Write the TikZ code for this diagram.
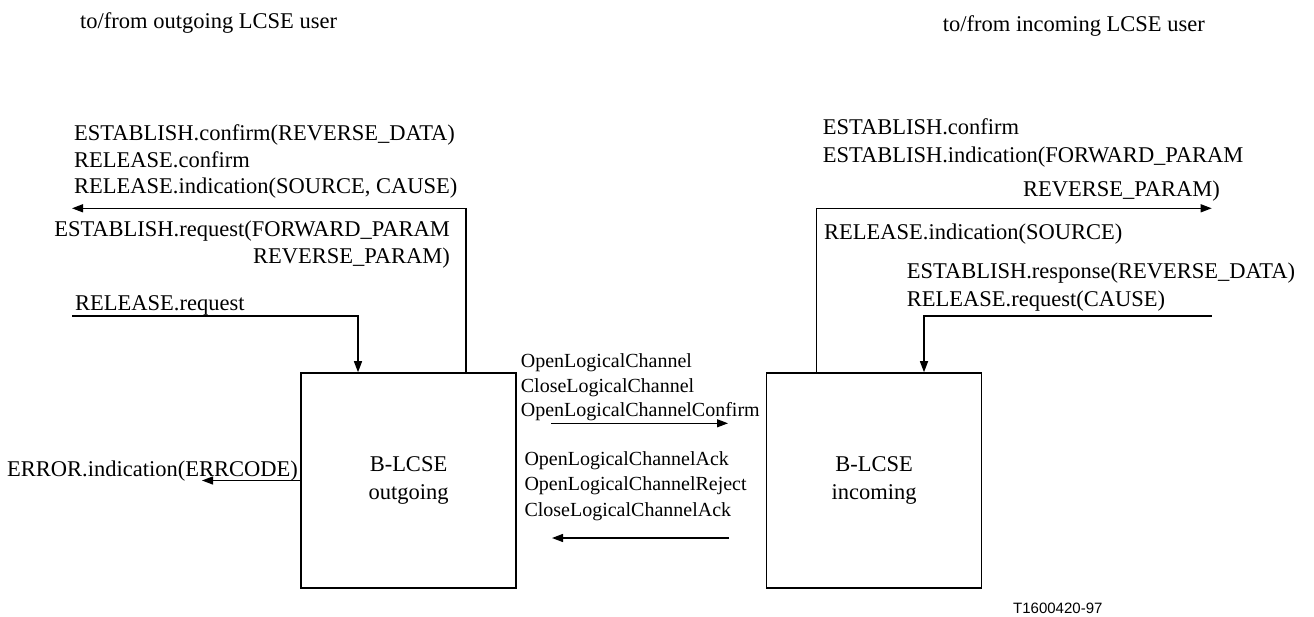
\documentclass[tikz,border=0pt]{standalone}
\usepackage{fontspec}
\setmainfont{Liberation Serif}
\newfontfamily\figsans{Liberation Sans}
\usetikzlibrary{arrows.meta}
\begin{document}
\begin{tikzpicture}[x=1pt,y=-1pt,
  big/.style={font=\fontsize{22.5}{27}\selectfont, inner sep=0pt, anchor=base west},
  bigr/.style={big, anchor=base east},
  small/.style={font=\fontsize{20}{24}\selectfont, inner sep=0pt, anchor=base west},
  block/.style={draw, line width=1.5pt, minimum width=215pt, minimum height=215pt,
    inner sep=0pt, align=center, font=\fontsize{22.5}{28}\selectfont},
  sig/.style={line width=1.3pt, -{Triangle[length=11pt,width=8pt]}}]
\useasboundingbox (0,0) rectangle (1314,617);

% headings
\node[big] (hl) at (80,28.5) {to/from outgoing LCSE user};
\node[big] (hr) at (942.7,31.5) {to/from incoming LCSE user};

% entities
\node[block] (out) at (408.5,480.5) {B-LCSE\\outgoing};
\node[block] (in)  at (874,480.5) {B-LCSE\\incoming};

% primitives of the outgoing side
\node[big] (l1) at (74,140.7) {ESTABLISH.confirm(REVERSE\_DATA)};
\node[big] (l2) at (74,167.3) {RELEASE.confirm};
\node[big] (l3) at (74,194) {RELEASE.indication(SOURCE, CAUSE)};
\node[bigr] (l4) at (450,236.7) {ESTABLISH.request(FORWARD\_PARAM};
\node[bigr] (l5) at (450,264) {REVERSE\_PARAM)};
\node[big] (l6) at (75,310.7) {RELEASE.request};
\node[big] (l7) at (7,476.7) {ERROR.indication(ERRCODE)};

% primitives of the incoming side
\node[big] (r1) at (822.7,135) {ESTABLISH.confirm};
\node[big] (r2) at (822.7,162.7) {ESTABLISH.indication(FORWARD\_PARAM};
\node[big] (r3) at (1023,196.7) {REVERSE\_PARAM)};
\node[big] (r4) at (824,240) {RELEASE.indication(SOURCE)};
\node[big] (r5) at (906.7,279) {ESTABLISH.response(REVERSE\_DATA)};
\node[big] (r6) at (906.7,306.7) {RELEASE.request(CAUSE)};

% peer messages
\node[small] (m1) at (520.7,367.7) {OpenLogicalChannel};
\node[small] (m2) at (520.7,392.3) {CloseLogicalChannel};
\node[small] (m3) at (520.7,416) {OpenLogicalChannelConfirm};
\node[small] (m4) at (524.3,465.7) {OpenLogicalChannelAck};
\node[small] (m5) at (524.3,490.7) {OpenLogicalChannelReject};
\node[small] (m6) at (524.3,516) {CloseLogicalChannelAck};

\node[font=\figsans\fontsize{15}{18}\selectfont, inner sep=0pt, anchor=base west] (tag) at (1013,613) {T1600420-97};

% connector end points
\coordinate (xo1) at (466,0);
\coordinate (xo2) at (358,0);
\coordinate (xi1) at (816.7,0);
\coordinate (xi2) at (924,0);
\coordinate (lup) at (72,208.3);
\coordinate (lrq) at (72,316);
\coordinate (lerr) at (202,480.5);
\coordinate (rup) at (1211.7,208.3);
\coordinate (rrq) at (1211.7,316);
\coordinate (fwdA) at (551,423.3);
\coordinate (fwdB) at (728,423.3);
\coordinate (bwdA) at (729,538);
\coordinate (bwdB) at (552,538);

% connectors
\draw[sig] (out.north -| xo1) |- (lup);
\draw[sig] (lrq) -| (out.north -| xo2);
\draw[sig] (out.west) -- (lerr);
\draw[sig] (in.north -| xi1) |- (rup);
\draw[sig] (rrq) -| (in.north -| xi2);
\draw[sig] (fwdA) -- (fwdB);
\draw[sig] (bwdA) -- (bwdB);
\end{tikzpicture}
\end{document}
